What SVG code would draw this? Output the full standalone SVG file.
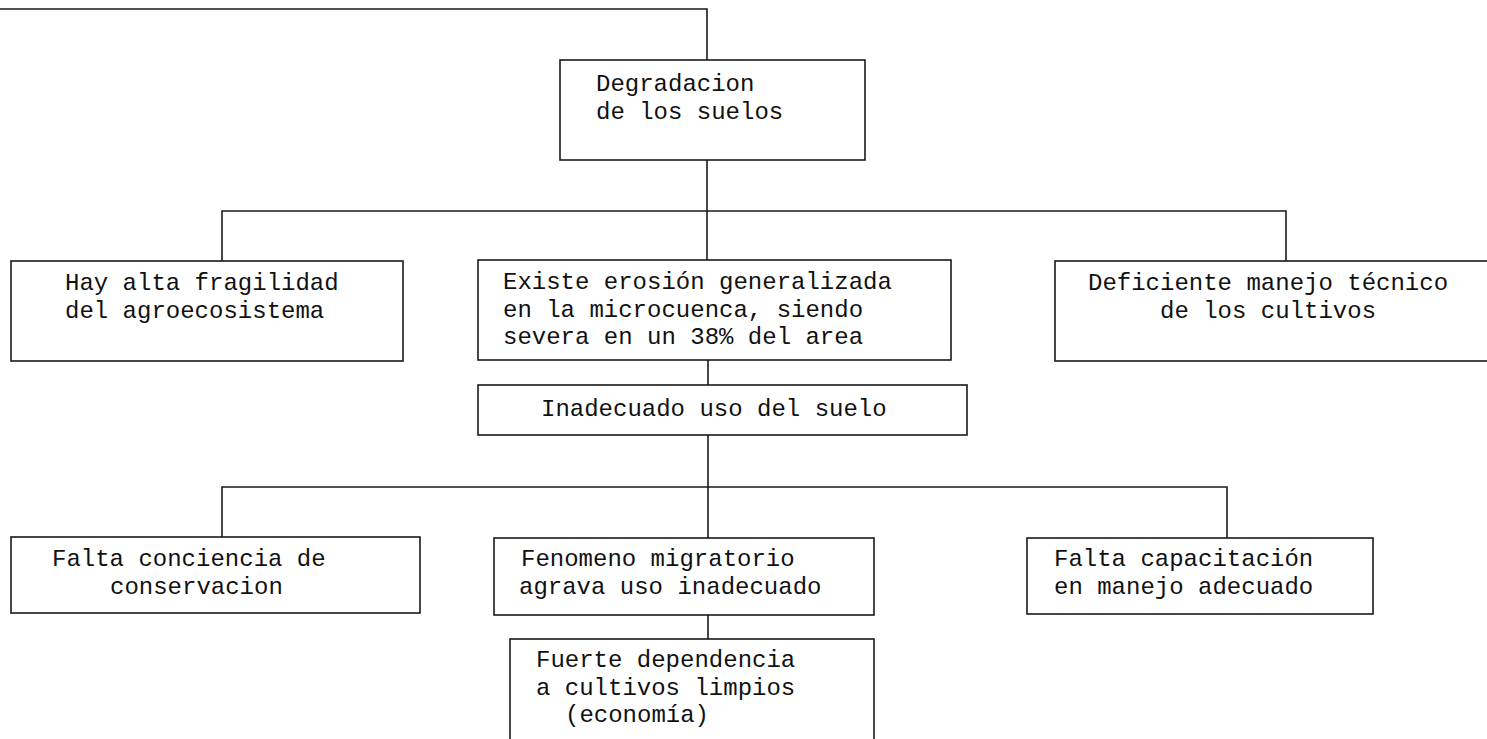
<svg xmlns="http://www.w3.org/2000/svg" width="1487" height="739" viewBox="0 0 1487 739">
<style>
  .box { fill: #ffffff; stroke: #1a1a1a; stroke-width: 1.6; }
  .conn { fill: none; stroke: #1a1a1a; stroke-width: 1.6; }
  text { font-family: "Liberation Mono", "Courier New", monospace; font-size: 24px; fill: #111111; }
</style>
<rect width="1487" height="739" fill="#ffffff"/>
<g id="connectors">
  <path class="conn" d="M0 9 H707 V60"/>
  <path class="conn" d="M707 160 V211"/>
  <path class="conn" d="M222 261 V211 H1286 V261"/>
  <path class="conn" d="M707 211 V260"/>
  <path class="conn" d="M708 360 V385"/>
  <path class="conn" d="M708 435 V487"/>
  <path class="conn" d="M222 537 V487 H1227 V538"/>
  <path class="conn" d="M708 487 V538"/>
  <path class="conn" d="M708 615 V639"/>
</g>
<g id="n-degradacion">
  <rect class="box" x="560" y="60" width="305" height="100"/>
  <text x="596" y="91">Degradacion<tspan x="596" dy="27.5">de los suelos</tspan></text>
</g>
<g id="n-fragilidad">
  <rect class="box" x="11" y="261" width="392" height="100"/>
  <text x="65" y="290">Hay alta fragilidad<tspan x="65" dy="27.5">del agroecosistema</tspan></text>
</g>
<g id="n-erosion">
  <rect class="box" x="478" y="260" width="473" height="100"/>
  <text x="503" y="289">Existe erosión generalizada<tspan x="503" dy="27.5">en la microcuenca, siendo</tspan><tspan x="503" dy="27.5">severa en un 38% del area</tspan></text>
</g>
<g id="n-deficiente">
  <rect class="box" x="1055" y="261" width="445" height="100"/>
  <text x="1088" y="290">Deficiente manejo técnico<tspan x="1160" dy="27.5">de los cultivos</tspan></text>
</g>
<g id="n-inadecuado">
  <rect class="box" x="478" y="385" width="489" height="50"/>
  <text x="541" y="416">Inadecuado uso del suelo</text>
</g>
<g id="n-conciencia">
  <rect class="box" x="11" y="537" width="409" height="76"/>
  <text x="52" y="566">Falta conciencia de<tspan x="110" dy="27.5">conservacion</tspan></text>
</g>
<g id="n-migratorio">
  <rect class="box" x="494" y="538" width="380" height="77"/>
  <text x="521" y="566">Fenomeno migratorio<tspan x="519" dy="27.5">agrava uso inadecuado</tspan></text>
</g>
<g id="n-capacitacion">
  <rect class="box" x="1027" y="538" width="346" height="76"/>
  <text x="1054" y="566">Falta capacitación<tspan x="1054" dy="27.5">en manejo adecuado</tspan></text>
</g>
<g id="n-dependencia">
  <rect class="box" x="510" y="639" width="364" height="120"/>
  <text x="536" y="667">Fuerte dependencia<tspan x="536" dy="27.5">a cultivos limpios</tspan><tspan x="565" dy="27.5">(economía)</tspan></text>
</g>
</svg>
